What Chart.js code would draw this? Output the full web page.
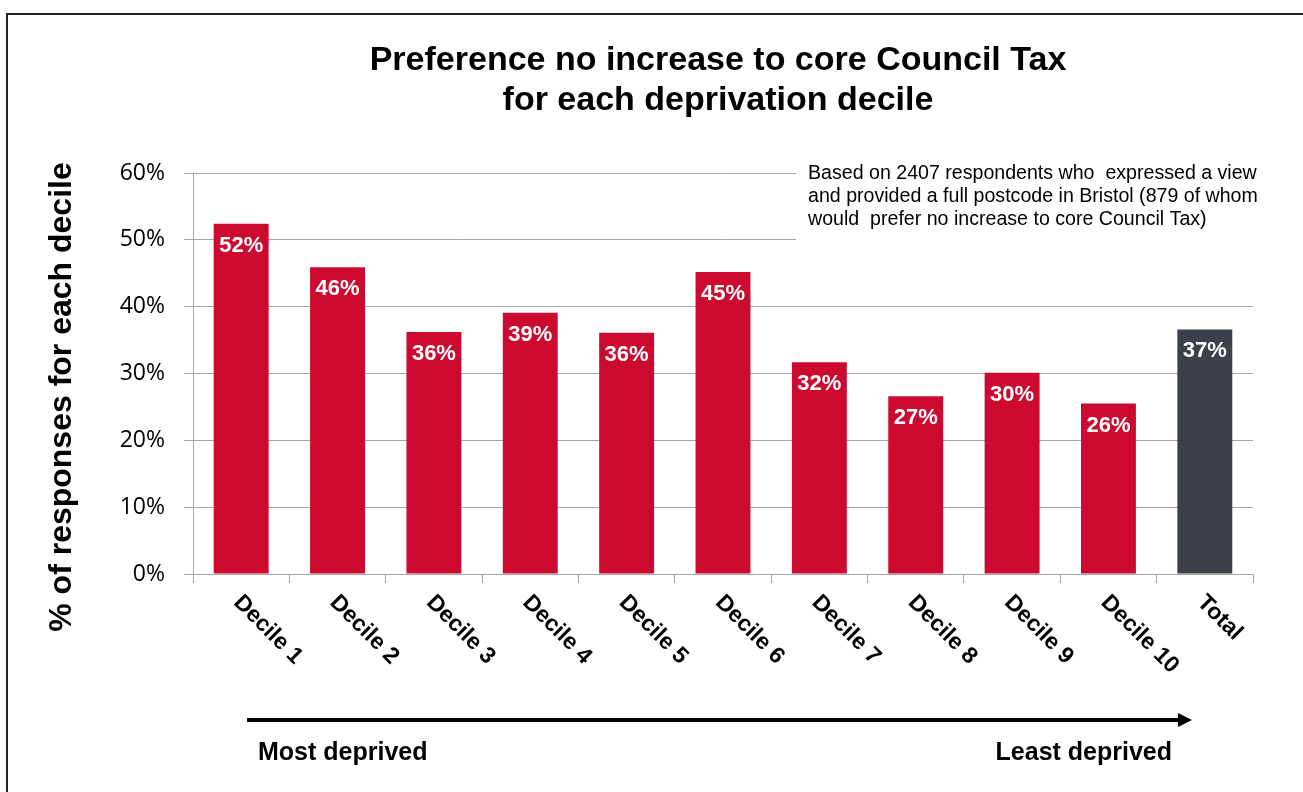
<!DOCTYPE html>
<html>
<head>
<meta charset="utf-8">
<script src="https://cdn.jsdelivr.net/npm/chart.js@4.4.1/dist/chart.umd.min.js"></script>
<style>
  html, body { margin: 0; padding: 0; background: #fff; }
  #wrap { width: 1303px; height: 792px; position: relative; }
</style>
</head>
<body>
<div id="wrap"><canvas id="chart" width="1303" height="792"></canvas></div>
<script>
// Share of respondents preferring no increase to core Council Tax, by deprivation decile
const categories = ['Decile 1', 'Decile 2', 'Decile 3', 'Decile 4', 'Decile 5', 'Decile 6',
  'Decile 7', 'Decile 8', 'Decile 9', 'Decile 10', 'Total'];
const values = [52.4, 45.9, 36.2, 39.1, 36.1, 45.2, 31.7, 26.6, 30.1, 25.5, 36.6];
const valueLabels = ['52%', '46%', '36%', '39%', '36%', '45%', '32%', '27%', '30%', '26%', '37%'];
const yTicks = [0, 10, 20, 30, 40, 50, 60];

const RED = '#cc0a2f';
const DARK = '#3c4048';
const GRID = '#a6a6a6';
const ARIAL = '"Liberation Sans", Arial, sans-serif';

const titleLines = ['Preference no increase to core Council Tax', 'for each deprivation decile'];
const noteLines = [
  'Based on 2407 respondents who  expressed a view',
  'and provided a full postcode in Bristol (879 of whom',
  'would  prefer no increase to core Council Tax)'
];

// everything drawn outside the bars: frame, titles, note, rotated labels, arrow
const extras = {
  id: 'extras',
  beforeDraw(chart) {
    const ctx = chart.ctx;
    ctx.save();
    ctx.fillStyle = '#fff';
    ctx.fillRect(0, 0, chart.width, chart.height);
    ctx.restore();
  },
  afterDraw(chart) {
    const ctx = chart.ctx;
    const x = chart.scales.x;
    ctx.save();

    // frame
    ctx.strokeStyle = '#222';
    ctx.lineWidth = 2;
    ctx.beginPath();
    ctx.moveTo(1303, 14);
    ctx.lineTo(7, 14);
    ctx.lineTo(7, 792);
    ctx.stroke();

    // title
    ctx.fillStyle = '#000';
    ctx.font = 'bold 34px ' + ARIAL;
    ctx.textAlign = 'center';
    ctx.textBaseline = 'middle';
    ctx.fillText(titleLines[0], 718, 61);
    ctx.fillText(titleLines[1], 718, 101);

    // y axis title
    ctx.save();
    ctx.translate(62, 397);
    ctx.rotate(-Math.PI / 2);
    ctx.font = 'bold 32px ' + ARIAL;
    ctx.fillText('% of responses for each decile', 0, 0);
    ctx.restore();

    // note box over the grid
    ctx.fillStyle = '#fff';
    ctx.fillRect(796, 160, 480, 84);
    ctx.fillStyle = '#000';
    ctx.font = '19.6px ' + ARIAL;
    ctx.textAlign = 'left';
    noteLines.forEach((t, i) => ctx.fillText(t, 808, 174 + i * 23));

    // rotated category labels
    ctx.font = 'bold 23px ' + ARIAL;
    ctx.textBaseline = 'middle';
    categories.forEach((c, i) => {
      const cx = x.getPixelForValue(i);
      ctx.save();
      ctx.translate(cx - 4, 599);
      ctx.rotate(Math.PI / 4);
      ctx.fillText(c, 0, 0);
      ctx.restore();
    });

    // arrow
    ctx.strokeStyle = '#000';
    ctx.lineWidth = 4;
    ctx.beginPath();
    ctx.moveTo(247, 720);
    ctx.lineTo(1180, 720);
    ctx.stroke();
    ctx.beginPath();
    ctx.moveTo(1192, 720);
    ctx.lineTo(1178, 713);
    ctx.lineTo(1178, 727);
    ctx.closePath();
    ctx.fill();

    ctx.font = 'bold 25px ' + ARIAL;
    ctx.textAlign = 'left';
    ctx.fillText('Most deprived', 258, 753);
    ctx.textAlign = 'right';
    ctx.fillText('Least deprived', 1172, 753);

    ctx.restore();
  },
  afterDatasetsDraw(chart) {
    const ctx = chart.ctx;
    const meta = chart.getDatasetMeta(0);
    ctx.save();
    ctx.fillStyle = '#fff';
    ctx.font = 'bold 22px ' + ARIAL;
    ctx.textAlign = 'center';
    ctx.textBaseline = 'middle';
    meta.data.forEach((bar, i) => {
      ctx.fillText(valueLabels[i], bar.x, bar.y + 22);
    });
    ctx.restore();
  }
};

new Chart(document.getElementById('chart').getContext('2d'), {
  type: 'bar',
  data: {
    labels: categories,
    datasets: [{
      data: values,
      backgroundColor: categories.map(c => c === 'Total' ? DARK : RED),
      barPercentage: 0.57,
      categoryPercentage: 1.0
    }]
  },
  options: {
    responsive: false,
    animation: false,
    devicePixelRatio: 1,
    layout: { padding: { top: 173, right: 50, left: 0, bottom: 0 } },
    plugins: { legend: { display: false }, tooltip: { enabled: false }, title: { display: false } },
    scales: {
      x: {
        afterFit: s => { s.height = 218; },
        ticks: { display: false },
        grid: { drawOnChartArea: false, tickLength: 9, color: GRID, offset: true },
        border: { color: GRID }
      },
      y: {
        min: 0,
        max: 60,
        afterFit: s => { s.width = 193; },
        afterBuildTicks: s => { s.ticks = yTicks.map(v => ({ value: v })); },
        ticks: {
          callback: v => v + '%',
          color: '#000',
          padding: 19,
          font: { family: '"Open Sans", sans-serif', size: 23 }
        },
        grid: { color: GRID, tickLength: 9 },
        border: { color: GRID }
      }
    }
  },
  plugins: [extras]
});
</script>
</body>
</html>
